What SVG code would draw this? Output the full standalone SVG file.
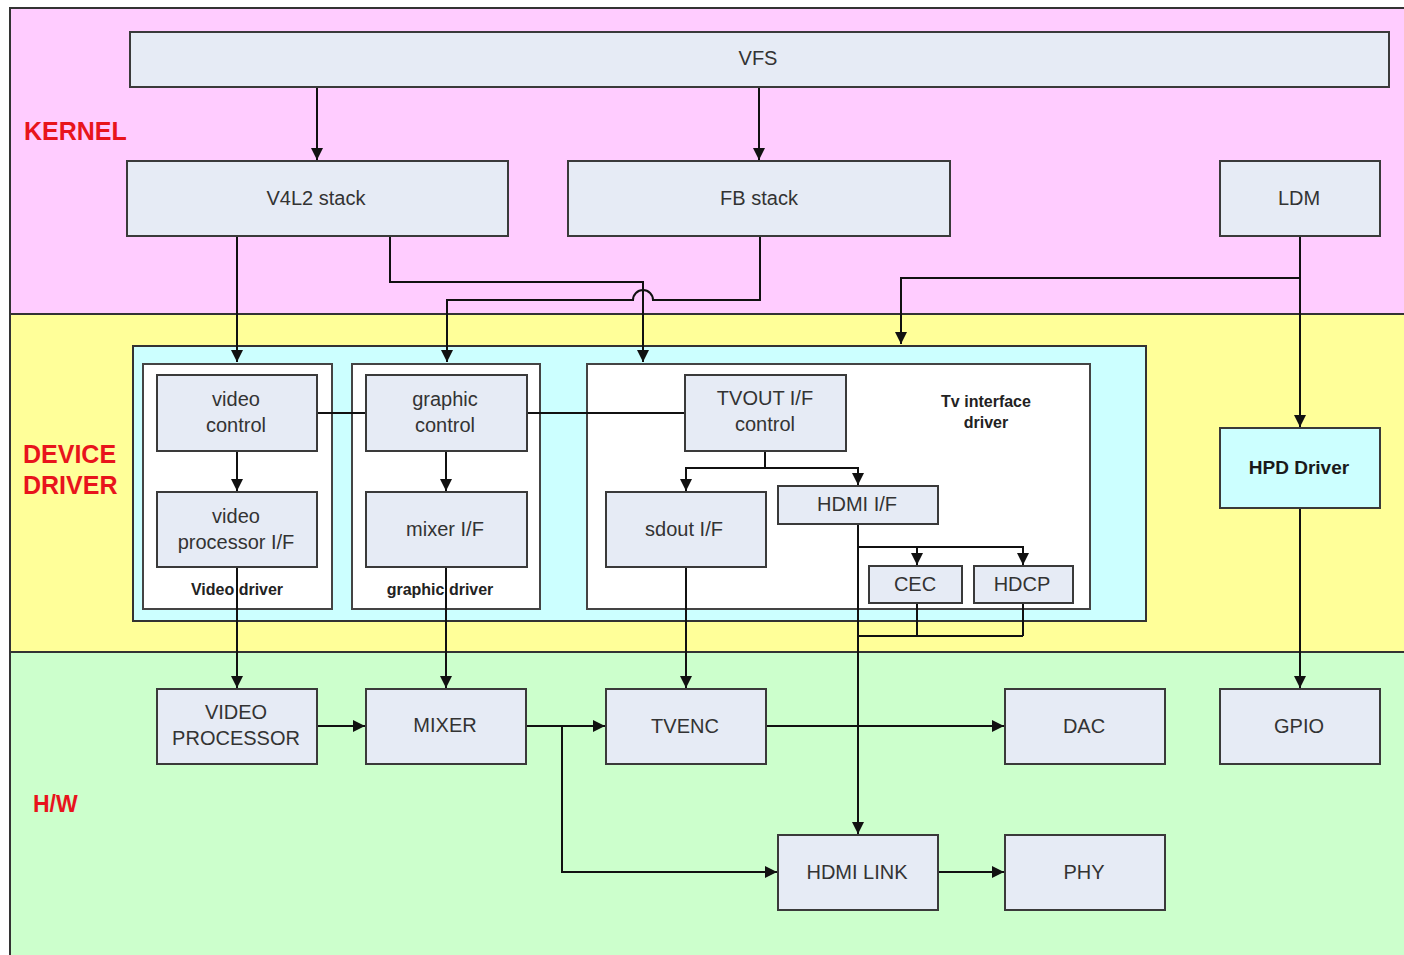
<svg xmlns="http://www.w3.org/2000/svg" width="1404" height="955" viewBox="0 0 1404 955">
<defs>
<marker id="ah" viewBox="0 0 10 10" refX="10" refY="5" markerWidth="6" markerHeight="6" markerUnits="strokeWidth" orient="auto">
<path d="M0,0 L10,5 L0,10 z" fill="#111"/>
</marker>
<style>
.node rect{fill:#e6ebf5;stroke:#3a3a3a;stroke-width:2}
.node text,.lbl{font-family:"Liberation Sans",Arial,sans-serif;font-size:20px;fill:#333;text-anchor:middle;dominant-baseline:central}
.grp{fill:#fff;stroke:#444;stroke-width:2}
.bold{font-family:"Liberation Sans",Arial,sans-serif;font-size:16px;font-weight:bold;fill:#222;text-anchor:middle;dominant-baseline:central}
.layer{font-family:"Liberation Sans",Arial,sans-serif;font-size:25px;font-weight:bold;fill:#e8141c}
.conn path{fill:none;stroke:#111;stroke-width:2}
.arr{marker-end:url(#ah)}
</style>
</defs>
<rect x="0" y="0" width="1404" height="955" fill="#fff"/>
<!-- layers -->
<g id="layers">
<rect x="10" y="8" width="1400" height="306" fill="#ffccff" stroke="#333" stroke-width="2"/>
<rect x="10" y="314" width="1400" height="338" fill="#ffff99" stroke="#333" stroke-width="2"/>
<rect x="10" y="652" width="1400" height="310" fill="#ccffcc" stroke="#333" stroke-width="2"/>
<text class="layer" x="24" y="140">KERNEL</text>
<text class="layer" x="23" y="463">DEVICE</text>
<text class="layer" x="23" y="494">DRIVER</text>
<text class="layer" x="33" y="812" style="font-size:23px">H/W</text>
</g>
<!-- containers -->
<g id="device-driver-box">
<rect x="133" y="346" width="1013" height="275" fill="#ccffff" stroke="#333" stroke-width="2"/>
</g>
<g id="video-driver">
<rect class="grp" x="143" y="364" width="189" height="245"/>
<text class="bold" x="237" y="589">Video driver</text>
</g>
<g id="graphic-driver">
<rect class="grp" x="352" y="364" width="188" height="245"/>
<text class="bold" x="440" y="589">graphic driver</text>
</g>
<g id="tv-interface-driver">
<rect class="grp" x="587" y="364" width="503" height="245"/>
<text class="bold" x="986" y="401">Tv interface</text>
<text class="bold" x="986" y="422">driver</text>
</g>
<!-- connectors -->
<g class="conn" id="connectors">
<path class="arr" d="M317,87 V160"/>
<path class="arr" d="M759,87 V160"/>
<path class="arr" d="M237,236 V362"/>
<path class="arr" d="M390,236 V282 H643 V362"/>
<path class="arr" d="M760,236 V300 H653 A10,10 0 0 0 633,300 H447 V362"/>
<path class="arr" d="M1300,236 V427"/>
<path class="arr" d="M1300,278 H901 V344"/>
<path d="M317,413 H366"/>
<path d="M527,413 H685"/>
<path class="arr" d="M237,451 V491"/>
<path class="arr" d="M446,451 V491"/>
<path d="M765,451 V468"/>
<path class="arr" d="M765,468 H686 V491"/>
<path class="arr" d="M765,468 H858 V485"/>
<path class="arr" d="M858,524 V834"/>
<path class="arr" d="M858,547 H917 V565"/>
<path class="arr" d="M917,547 H1023 V565"/>
<path d="M917,603 V636 M1023,603 V636 M858,636 H1023"/>
<path class="arr" d="M237,567 V688"/>
<path class="arr" d="M446,567 V688"/>
<path class="arr" d="M686,567 V688"/>
<path class="arr" d="M1300,508 V688"/>
<path class="arr" d="M317,726 H365"/>
<path class="arr" d="M526,726 H605"/>
<path class="arr" d="M562,726 V872 H777"/>
<path class="arr" d="M766,726 H1004"/>
<path class="arr" d="M938,872 H1004"/>
</g>
<!-- nodes -->
<g class="node" id="vfs"><rect x="130" y="32" width="1259" height="55"/><text x="758" y="58">VFS</text></g>
<g class="node" id="v4l2"><rect x="127" y="161" width="381" height="75"/><text x="316" y="198">V4L2 stack</text></g>
<g class="node" id="fb"><rect x="568" y="161" width="382" height="75"/><text x="759" y="198">FB stack</text></g>
<g class="node" id="ldm"><rect x="1220" y="161" width="160" height="75"/><text x="1299" y="198">LDM</text></g>
<g class="node" id="hpd"><rect x="1220" y="428" width="160" height="80" style="fill:#ccffff"/><text x="1299" y="467" style="font-weight:bold;font-size:19px;fill:#1a1a1a">HPD Driver</text></g>
<g class="node" id="video-control"><rect x="157" y="375" width="160" height="76"/><text x="236" y="399">video</text><text x="236" y="425">control</text></g>
<g class="node" id="video-proc-if"><rect x="157" y="492" width="160" height="75"/><text x="236" y="516">video</text><text x="236" y="542">processor I/F</text></g>
<g class="node" id="graphic-control"><rect x="366" y="375" width="161" height="76"/><text x="445" y="399">graphic</text><text x="445" y="425">control</text></g>
<g class="node" id="mixer-if"><rect x="366" y="492" width="161" height="75"/><text x="445" y="529">mixer I/F</text></g>
<g class="node" id="tvout-control"><rect x="685" y="375" width="161" height="76"/><text x="765" y="398">TVOUT I/F</text><text x="765" y="424">control</text></g>
<g class="node" id="sdout-if"><rect x="606" y="492" width="160" height="75"/><text x="684" y="529">sdout I/F</text></g>
<g class="node" id="hdmi-if"><rect x="778" y="486" width="160" height="38"/><text x="857" y="504">HDMI I/F</text></g>
<g class="node" id="cec"><rect x="869" y="566" width="93" height="37"/><text x="915" y="584">CEC</text></g>
<g class="node" id="hdcp"><rect x="974" y="566" width="99" height="37"/><text x="1022" y="584">HDCP</text></g>
<g class="node" id="video-processor"><rect x="157" y="689" width="160" height="75"/><text x="236" y="712">VIDEO</text><text x="236" y="738">PROCESSOR</text></g>
<g class="node" id="mixer"><rect x="366" y="689" width="160" height="75"/><text x="445" y="725">MIXER</text></g>
<g class="node" id="tvenc"><rect x="606" y="689" width="160" height="75"/><text x="685" y="726">TVENC</text></g>
<g class="node" id="dac"><rect x="1005" y="689" width="160" height="75"/><text x="1084" y="726">DAC</text></g>
<g class="node" id="gpio"><rect x="1220" y="689" width="160" height="75"/><text x="1299" y="726">GPIO</text></g>
<g class="node" id="hdmi-link"><rect x="778" y="835" width="160" height="75"/><text x="857" y="872">HDMI LINK</text></g>
<g class="node" id="phy"><rect x="1005" y="835" width="160" height="75"/><text x="1084" y="872">PHY</text></g>
</svg>
